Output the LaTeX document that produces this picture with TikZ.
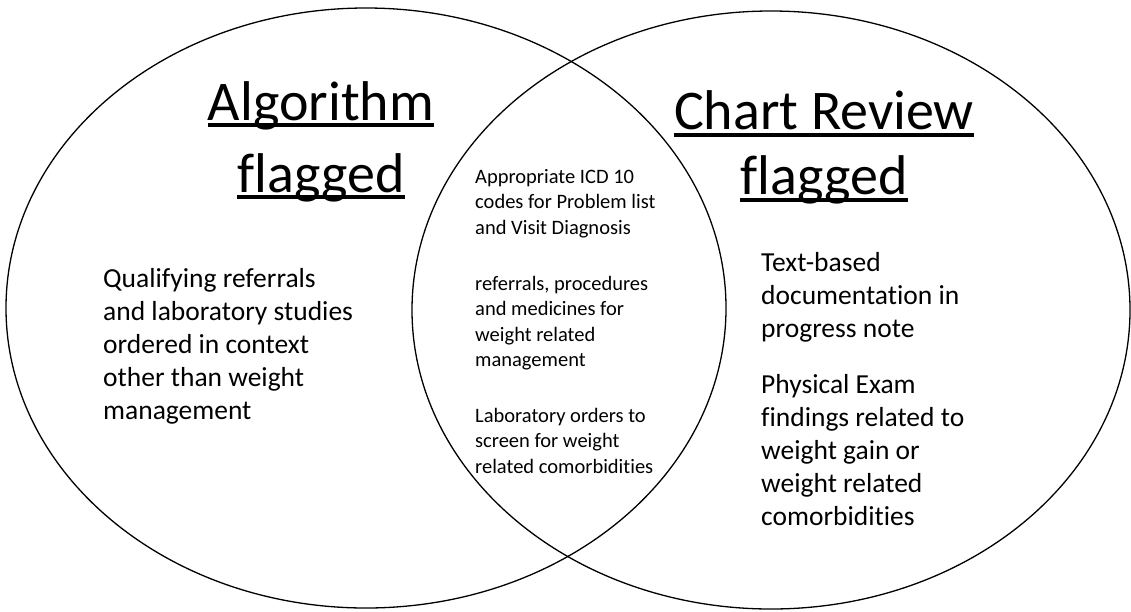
\documentclass[tikz,border=0pt]{standalone}
\usepackage{fontspec}
\setmainfont{Carlito}[Ligatures=NoCommon]
\begin{document}
\begin{tikzpicture}[x=1pt,y=-1pt,
  venn/.style={draw=black, line width=1.3pt},
  title/.style={font=\fontsize{56}{68}\selectfont, inner sep=0pt, anchor=base},
  big/.style={font=\fontsize{27.5}{33}\selectfont, inner sep=0pt, anchor=base west, text width=300pt, align=flush left},
  small/.style={font=\fontsize{20.5}{25.5}\selectfont, inner sep=0pt, anchor=base west, text width=220pt, align=flush left},
  ul/.style={draw=black, line width=4pt}]
\useasboundingbox (0,0) rectangle (1131,611);
\fill[white] (0,0) rectangle (1131,611);

% circles
\draw[venn] (366,308) ellipse [x radius=360, y radius=300];
\draw[venn] (771,310) ellipse [x radius=359, y radius=299];

% titles
\node[title] (a1) at (321,120) {Algorithm};
\node[title] (a2) at (321,192) {flagged};
\node[title] (c1) at (824,129.5) {Chart Review};
\node[title] (c2) at (824,194.5) {flagged};
\foreach \n in {a1,a2,c1,c2}
  \draw[ul] ([yshift=-5pt]\n.base west) -- ([yshift=-5pt]\n.base east);

% left text
\node[big] (left) at (103,287) {Qualifying referrals\\and laboratory studies\\ordered in context\\other than weight\\management};

% middle text
\node[small] (m1) at (475,183) {Appropriate ICD 10\\codes for Problem list\\and Visit Diagnosis};
\node[small] (m2) at (475,290) {referrals, procedures\\and medicines for\\weight related\\management};
\node[small] (m3) at (475,422) {Laboratory orders to\\screen for weight\\related comorbidities};

% right text
\node[big] (r1) at (761,271) {Text-based\\documentation in\\progress note};
\node[big] (r2) at (761,393) {Physical Exam\\findings related to\\weight gain or\\weight related\\comorbidities};
\end{tikzpicture}
\end{document}
